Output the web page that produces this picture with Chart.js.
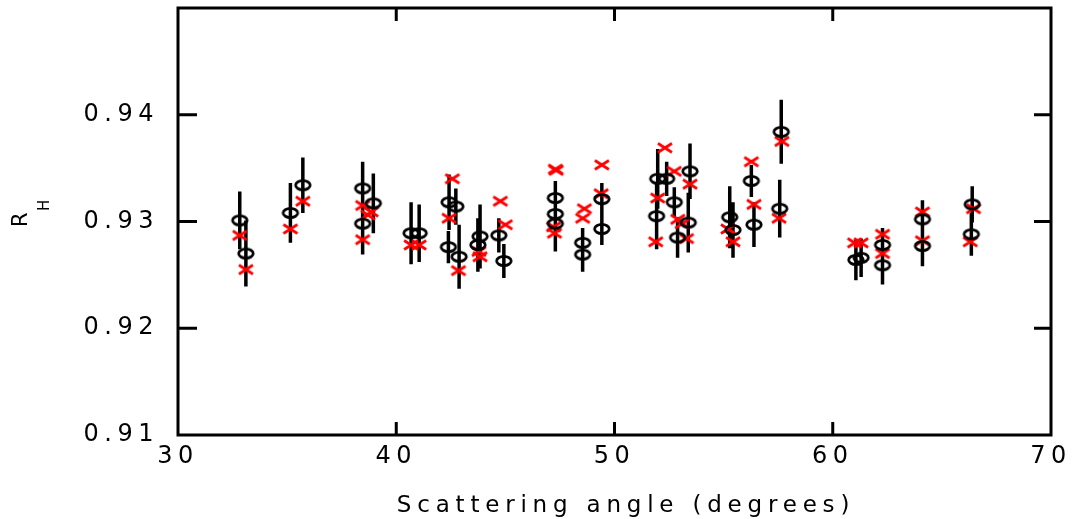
<!DOCTYPE html>
<html>
<head>
<meta charset="utf-8">
<script src="https://cdn.jsdelivr.net/npm/chart.js@4/dist/chart.umd.min.js"></script>
<style>
  body { margin: 0; background: #fff; }
</style>
</head>
<body>
<canvas id="canvas" width="1077" height="519"></canvas>
<script>
// measured points with errors (open circles)
var circleAngle = [32.83, 33.11, 35.15, 35.72, 38.46, 38.46, 38.95, 40.68, 41.05, 42.42, 42.73, 42.39, 42.88,
  43.84, 43.74, 44.70, 44.93, 47.29, 47.29, 47.29, 48.54, 48.54, 49.42, 49.42, 51.98, 52.39, 51.93, 52.74,
  52.89, 53.38, 53.46, 55.28, 55.43, 56.27, 56.39, 57.64, 57.57, 61.06, 61.30, 62.28, 62.28, 64.11, 64.11,
  66.39, 66.35];
var circleRh = [0.9301, 0.9270, 0.9308, 0.9334, 0.9331, 0.9298, 0.9317, 0.9289, 0.9289, 0.9318, 0.9314, 0.9276,
  0.9267, 0.9286, 0.9278, 0.9287, 0.9263, 0.9322, 0.9307, 0.9298, 0.9280, 0.9269, 0.9321, 0.9293, 0.9340,
  0.9340, 0.9305, 0.9318, 0.9285, 0.9299, 0.9347, 0.9304, 0.9292, 0.9338, 0.9297, 0.9384, 0.9312, 0.9264,
  0.9266, 0.9278, 0.9259, 0.9302, 0.9277, 0.9316, 0.9288];
var circleErr = [0.0027, 0.0031, 0.0028, 0.0026, 0.0025, 0.0029, 0.0028, 0.0029, 0.0027, 0.0026, 0.0017, 0.0015,
  0.0030, 0.0030, 0.0025, 0.0016, 0.0016, 0.0016, 0.0018, 0.0026, 0.0014, 0.0016, 0.0015, 0.0015, 0.0028,
  0.0016, 0.0031, 0.0014, 0.0019, 0.0028, 0.0026, 0.0029, 0.0026, 0.0015, 0.0021, 0.0030, 0.0027, 0.0019,
  0.0018, 0.0016, 0.0018, 0.0018, 0.0019, 0.0017, 0.0020];

// calculated values (red crosses)
var crossAngle = [32.83, 33.11, 35.15, 35.72, 38.46, 38.70, 38.85, 38.46, 40.68, 41.05, 42.57, 42.42, 42.85,
  43.79, 43.84, 44.77, 45.00, 47.29, 47.33, 47.21, 47.25, 48.62, 48.54, 49.42, 49.39, 52.31, 51.98, 51.89,
  52.74, 53.46, 52.90, 53.10, 53.30, 55.20, 55.43, 56.27, 56.39, 57.67, 57.54, 61.00, 61.30, 62.28, 62.28,
  64.11, 64.11, 66.45, 66.30];
var crossRh = [0.9287, 0.9255, 0.9293, 0.9319, 0.9315, 0.9306, 0.9309, 0.9283, 0.9278, 0.9278, 0.9340, 0.9303,
  0.9254, 0.9272, 0.9267, 0.9319, 0.9297, 0.9349, 0.9348, 0.9295, 0.9289, 0.9312, 0.9303, 0.9353, 0.9326,
  0.9369, 0.9322, 0.9281, 0.9347, 0.9335, 0.9302, 0.9298, 0.9284, 0.9293, 0.9281, 0.9356, 0.9316, 0.9375,
  0.9303, 0.9280, 0.9280, 0.9288, 0.9270, 0.9309, 0.9282, 0.9312, 0.9281];

var xTicks = [30, 40, 50, 60, 70];
var yTicks = [0.91, 0.92, 0.93, 0.94];

var FONT = 'DejaVu Sans';

function toPoints(xs, ys) {
  var pts = [];
  for (var i = 0; i < xs.length; i++) pts.push({x: xs[i], y: ys[i]});
  return pts;
}

function ringMarker() {
  var c = document.createElement('canvas');
  c.width = 20; c.height = 14;
  var g = c.getContext('2d');
  g.strokeStyle = '#000';
  g.lineWidth = 2.7;
  g.beginPath();
  g.ellipse(10, 7, 7.3, 4.6, 0, 0, Math.PI * 2);
  g.stroke();
  return c;
}

function crossMarker() {
  var c = document.createElement('canvas');
  c.width = 18; c.height = 14;
  var g = c.getContext('2d');
  g.strokeStyle = '#ff0000';
  g.lineWidth = 2.7;
  g.beginPath();
  g.moveTo(2, 2.5); g.lineTo(16, 11.5);
  g.moveTo(16, 2.5); g.lineTo(2, 11.5);
  g.stroke();
  return c;
}

// no extra room for the outer tick labels, keep the plot box fixed
function noPadding(s) {
  s.paddingTop = 0; s.paddingBottom = 0;
  s.paddingLeft = 0; s.paddingRight = 0;
}

// vertical error bars, frame with inward ticks, axis titles
var decorations = {
  id: 'decorations',
  beforeDraw: function(chart) {
    chart.ctx.letterSpacing = '5.5px';
  },
  beforeDatasetsDraw: function(chart) {
    var ctx = chart.ctx, xs = chart.scales.x, ys = chart.scales.y;
    ctx.save();
    ctx.strokeStyle = '#000';
    ctx.lineWidth = 3.5;
    ctx.beginPath();
    for (var i = 0; i < circleAngle.length; i++) {
      var px = xs.getPixelForValue(circleAngle[i]);
      ctx.moveTo(px, ys.getPixelForValue(circleRh[i] + circleErr[i]));
      ctx.lineTo(px, ys.getPixelForValue(circleRh[i] - circleErr[i]));
    }
    ctx.stroke();
    ctx.restore();
  },
  afterDraw: function(chart) {
    var ctx = chart.ctx, a = chart.chartArea, xs = chart.scales.x, ys = chart.scales.y;
    ctx.save();
    ctx.letterSpacing = '0px';
    ctx.strokeStyle = '#000';
    ctx.lineWidth = 3;
    ctx.strokeRect(a.left, a.top, a.right - a.left, a.bottom - a.top);

    ctx.beginPath();
    xTicks.forEach(function(v) {
      if (v <= 30 || v >= 70) return;
      var px = xs.getPixelForValue(v);
      ctx.moveTo(px, a.bottom); ctx.lineTo(px, a.bottom - 13);
      ctx.moveTo(px, a.top); ctx.lineTo(px, a.top + 13);
    });
    yTicks.forEach(function(v) {
      if (v <= 0.91) return;
      var py = ys.getPixelForValue(v);
      ctx.moveTo(a.left, py); ctx.lineTo(a.left + 19, py);
      ctx.moveTo(a.right, py); ctx.lineTo(a.right - 17, py);
    });
    ctx.stroke();

    ctx.fillStyle = '#000';
    ctx.letterSpacing = '5.8px';
    ctx.font = '23px "' + FONT + '"';
    ctx.textAlign = 'center';
    ctx.textBaseline = 'alphabetic';
    ctx.fillText('Scattering angle (degrees)', 626, 512);

    ctx.letterSpacing = '0px';
    ctx.translate(27, 227);
    ctx.rotate(-Math.PI / 2);
    ctx.textAlign = 'left';
    ctx.font = '21px "' + FONT + '"';
    ctx.fillText('R', 0, 0);
    ctx.font = '15px "' + FONT + '"';
    ctx.fillText('H', 16, 22);
    ctx.restore();
    ctx.letterSpacing = '0px';
  }
};

function printChart() {
  var ctx = document.getElementById('canvas').getContext('2d');
  new Chart(ctx, {
    type: 'scatter',
    data: {
      datasets: [{
        label: 'measured',
        data: toPoints(circleAngle, circleRh),
        pointStyle: ringMarker(),
        pointRadius: 7
      }, {
        label: 'calculated',
        data: toPoints(crossAngle, crossRh),
        pointStyle: crossMarker(),
        pointRadius: 7
      }]
    },
    options: {
      responsive: false,
      animation: false,
      layout: { padding: { left: 0, right: 26, top: 5, bottom: 0 } },
      plugins: { legend: { display: false }, tooltip: { enabled: false } },
      scales: {
        x: {
          type: 'linear', min: 30, max: 70,
          afterFit: function(s) { s.height = 84; noPadding(s); },
          grid: { display: false, drawTicks: false },
          border: { display: false },
          ticks: {
            stepSize: 10, padding: 7, color: '#000', maxRotation: 0,
            font: { family: FONT, size: 24 },
            callback: function(v) { return xTicks.indexOf(v) >= 0 ? String(v) : ''; }
          }
        },
        y: {
          type: 'linear', min: 0.91, max: 0.95,
          afterFit: function(s) { s.width = 178; noPadding(s); },
          grid: { display: false, drawTicks: false },
          border: { display: false },
          ticks: {
            stepSize: 0.01, padding: 19, color: '#000',
            font: { family: FONT, size: 24 },
            callback: function(v) {
              for (var i = 0; i < yTicks.length; i++) {
                if (Math.abs(v - yTicks[i]) < 1e-6) return yTicks[i].toFixed(2);
              }
              return '';
            }
          }
        }
      }
    },
    plugins: [decorations]
  });
}

printChart();
</script>
</body>
</html>
